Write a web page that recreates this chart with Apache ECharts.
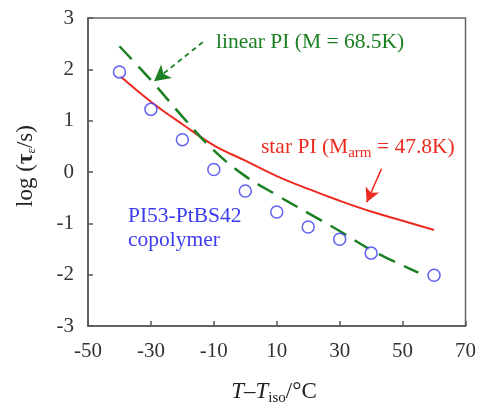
<!DOCTYPE html>
<html lang="en">
<head>
    <meta charset="UTF-8">
    <title>log tau vs T - Tiso</title>
    <style>
        body, html { margin: 0; height: 100%; overflow: hidden; background: #fff; }
        #main { width: 479px; height: 408px; }
    </style>
</head>
<body>
    <div id="main"></div>
    <script src="https://cdn.jsdelivr.net/npm/echarts@6/dist/echarts.min.js"></script>
    <script type="text/javascript">
        // T - Tiso (°C) for the copolymer measurements
        const copolymerX = [-40, -30, -20, -10, 0, 10, 20, 30, 40, 60]
        const copolymerY = [1.95, 1.22, 0.63, 0.05, -0.37, -0.78, -1.07, -1.31, -1.58, -2.01]

        // star PI curve
        const starX = [-40, -30, -20, -10, 0, 10, 20, 30, 40, 50, 60]
        const starY = [1.88, 1.37, 0.93, 0.52, 0.22, -0.08, -0.33, -0.56, -0.77, -0.95, -1.13]

        // linear PI curve
        const linearX = [-40, -30, -20, -10, 0, 10, 20, 30, 40, 50, 55]
        const linearY = [2.45, 1.79, 1.08, 0.42, -0.08, -0.45, -0.80, -1.15, -1.52, -1.82, -1.96]

        const xTicks = [-50, -30, -10, 10, 30, 50, 70]
        const yTicks = [-3, -2, -1, 0, 1, 2, 3]

        // arrows pointing from labels to curves (data coords)
        const linearArrow = [[-13.5, 2.53], [-29.0, 1.77]]
        const starArrow = [[43.3, 0.06], [38.6, -0.59]]

        const zip = (xs, ys) => xs.map((x, i) => [x, ys[i]])

        const serif = '"Liberation Serif", "DejaVu Serif", serif'
        const green = '#1b7f24'
        const red = '#ec2a1f'
        const blue = '#3b3bf0'

        var myChart = echarts.init(document.getElementById('main'));

        var option = {
            animation: false,
            grid: {
                left: 88, top: 18, right: 13, bottom: 82,
                show: true,
                borderColor: '#666',
                borderWidth: 1.5
            },
            xAxis: {
                type: 'value',
                min: xTicks[0],
                max: xTicks[xTicks.length - 1],
                interval: 20,
                axisLine: { show: true, onZero: false, lineStyle: { color: '#555', width: 1.5 } },
                axisTick: { inside: true, length: 5, lineStyle: { color: '#555', width: 1.5 } },
                splitLine: { show: false },
                axisLabel: { color: '#333', fontFamily: serif, fontSize: 21, margin: 15 }
            },
            yAxis: {
                type: 'value',
                min: yTicks[0],
                max: yTicks[yTicks.length - 1],
                interval: 1,
                axisLine: { show: true, onZero: false, lineStyle: { color: '#555', width: 1.5 } },
                axisTick: { inside: true, length: 5, lineStyle: { color: '#555', width: 1.5 } },
                splitLine: { show: false },
                axisLabel: { color: '#333', fontFamily: serif, fontSize: 21, margin: 14 }
            },
            series: [
                {
                    name: 'star PI',
                    type: 'line',
                    data: zip(starX, starY),
                    smooth: 0.4,
                    showSymbol: false,
                    lineStyle: { color: red, width: 2 },
                    z: 2,
                    markLine: {
                        silent: true,
                        symbol: ['none', 'arrow'],
                        symbolSize: [11, 14],
                        label: { show: false },
                        lineStyle: { color: red, width: 1.5, type: 'solid' },
                        data: [[{ coord: starArrow[0] }, { coord: starArrow[1] }]]
                    }
                },
                {
                    name: 'linear PI',
                    type: 'line',
                    data: zip(linearX, linearY),
                    smooth: 0.4,
                    showSymbol: false,
                    lineStyle: { color: green, width: 2.5, type: [18, 10] },
                    z: 3,
                    markLine: {
                        silent: true,
                        symbol: ['none', 'arrow'],
                        symbolSize: [13, 16],
                        label: { show: false },
                        lineStyle: { color: green, width: 1.8, type: [5, 4] },
                        data: [[{ coord: linearArrow[0] }, { coord: linearArrow[1] }]]
                    }
                },
                {
                    name: 'PI53-PtBS42',
                    type: 'scatter',
                    data: zip(copolymerX, copolymerY),
                    symbol: 'circle',
                    symbolSize: 12,
                    itemStyle: { color: '#fff', borderColor: blue, borderWidth: 1.5 },
                    z: 4
                }
            ],
            graphic: {
                elements: [
                    {
                        type: 'text',
                        x: 216, y: 42,
                        style: {
                            text: 'linear PI (M = 68.5K)',
                            font: '21.5px ' + serif,
                            fill: green,
                            verticalAlign: 'middle'
                        }
                    },
                    {
                        type: 'text',
                        x: 261, y: 147,
                        style: {
                            text: '{a|star PI (M}{s|arm}{a| = 47.8K)}',
                            verticalAlign: 'middle',
                            rich: {
                                a: { font: '21.5px ' + serif, fill: red },
                                s: { font: '15px ' + serif, fill: red, padding: [12, 0, 0, 0] }
                            }
                        }
                    },
                    {
                        type: 'text',
                        x: 128, y: 228,
                        style: {
                            text: 'PI53-PtBS42\ncopolymer',
                            font: '21.5px ' + serif,
                            fill: blue,
                            lineHeight: 24,
                            verticalAlign: 'middle'
                        }
                    },
                    {
                        type: 'text',
                        x: 26, y: 166,
                        rotation: Math.PI / 2,
                        style: {
                            text: '{a|log (}{t|τ}{s|ε}{a|/s)}',
                            align: 'center',
                            verticalAlign: 'middle',
                            rich: {
                                a: { font: '23px ' + serif, fill: '#222' },
                                t: { font: 'bold 23px ' + serif, fill: '#222' },
                                s: { font: '13px ' + serif, fill: '#222', padding: [11, 0, 0, 0] }
                            }
                        }
                    },
                    {
                        type: 'text',
                        x: 274, y: 392,
                        style: {
                            text: '{i|T}{a|–}{i|T}{s|iso}{a|/°C}',
                            align: 'center',
                            verticalAlign: 'middle',
                            rich: {
                                a: { font: '23px ' + serif, fill: '#222' },
                                i: { font: 'italic 23px ' + serif, fill: '#222' },
                                s: { font: '15px ' + serif, fill: '#222', padding: [12, 0, 0, 0] }
                            }
                        }
                    }
                ]
            }
        };
        myChart.setOption(option);
    </script>
</body>
</html>
